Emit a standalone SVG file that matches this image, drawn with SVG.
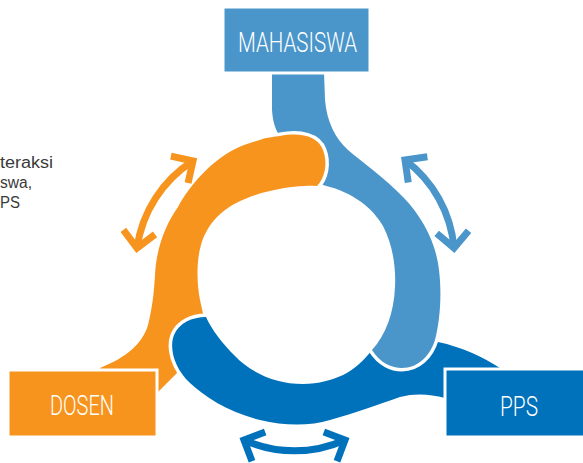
<svg xmlns="http://www.w3.org/2000/svg" width="583" height="463" viewBox="0 0 583 463">
<defs>
<style>
.or{fill:#F7941E}
.lb{fill:#4A96CA}
.db{fill:#0071BB}
.cut{fill:none;stroke:#fff;stroke-width:7;stroke-linejoin:round}
.box{stroke:#fff;stroke-width:3}
.lbl{font-family:Roboto,"Liberation Sans",sans-serif;font-weight:300;font-size:28px;fill:#fff}
.arr{fill:none;stroke-width:7}
.note{font-family:"Liberation Sans",Arial,sans-serif;font-size:16px;fill:#3a3a3a}
</style>
<marker id="hOr" markerUnits="userSpaceOnUse" viewBox="-20 -20 40 40" markerWidth="40" markerHeight="40" refX="0" refY="0" orient="auto-start-reverse" overflow="visible"><path d="M-16,-16 L0,0 L-16,16" fill="none" stroke="#F7941E" stroke-width="7" stroke-linejoin="miter"/></marker>
<marker id="hLb" markerUnits="userSpaceOnUse" viewBox="-20 -20 40 40" markerWidth="40" markerHeight="40" refX="0" refY="0" orient="auto-start-reverse" overflow="visible"><path d="M-16,-16 L0,0 L-16,16" fill="none" stroke="#4A96CA" stroke-width="7" stroke-linejoin="miter"/></marker>
<marker id="hDb" markerUnits="userSpaceOnUse" viewBox="-20 -20 40 40" markerWidth="40" markerHeight="40" refX="0" refY="0" orient="auto-start-reverse" overflow="visible"><path d="M-16,-16 L0,0 L-16,16" fill="none" stroke="#0071BB" stroke-width="7" stroke-linejoin="miter"/></marker>
</defs>
<g id="note">
<text class="note" x="0" y="167.5" textLength="53" lengthAdjust="spacingAndGlyphs">teraksi</text>
<text class="note" x="0" y="187.5" textLength="32" lengthAdjust="spacingAndGlyphs">swa,</text>
<text class="note" x="0" y="207.5" textLength="20" lengthAdjust="spacingAndGlyphs">PS</text>
</g>
<g id="ring">
<path id="seg-dosen" class="or" d="M280,136 C300,132 318,136 323,150 C328,163 325,178 317,186 C300,185 268,189 245,199 C222,208 207,224 201,245 C196,262 197,285 200,300 L204,318 C202,340 194,356 182,368 L150,400 L100,400 L100,368 C125,358 142,345 148,325 C153,305 154,290 155,275 C156,250 165,225 178,207 C190,185 210,162 235,149 C250,142 265,138 280,136 Z"/>
<path class="cut" d="M218,333 C212,326 208,321 206,317 C192,317 179,323 174,335 C169,348 174,368 190,383"/>
<path id="seg-pps" class="db" d="M206,317 C192,317 179,323 174,335 C169,348 174,368 190,383 C205,397 228,412 260,420 C285,426 310,426 330,420 C355,413 380,404 400,397 C415,393 430,394 445,398 L470,400 L520,400 L520,375 L500,368 C483,357 462,347 438,342 L405,343 L372,350 C355,372 335,383 303,384 C275,384 250,372 235,356 C222,343 212,330 206,317 Z"/>
<path class="cut" d="M385,328 C381,339 377,345 372,350 C380,363 392,368 402,368 C418,368 430,356 435,340 C436,336 437,332 437,328"/>
<path id="seg-mahasiswa" class="lb" d="M272,72 L272,110 C273,124 276,132 283,140 C295,158 308,176 318,184 C340,188 368,200 383,226 C393,245 396,268 395,287 C394,312 386,335 372,350 C380,363 392,368 402,368 C418,368 430,356 435,340 C440,320 442,295 439,270 C436,242 422,217 404,198 C385,178 362,162 348,150 C335,138 327,122 325,100 L324,72 Z"/>
<path class="cut" d="M268,137.5 L280,136 C300,132 318,136 323,150 C328,163 325,178 317,186 L306,186"/>
<path class="or" d="M262,139 C268,137.5 274,136.6 280,136 C300,132 318,136 323,150 C328,163 325,178 317,186 C300,185 280,187 262,191 Z"/>
</g>
<g id="connectors">
<path class="arr" stroke="#F7941E" marker-start="url(#hOr)" marker-end="url(#hOr)" d="M137,248 A123,123 0 0 1 193,161"/>
<path class="arr" stroke="#4A96CA" marker-start="url(#hLb)" marker-end="url(#hLb)" d="M405,160 A123,123 0 0 1 454,248"/>
<path class="arr" stroke="#0071BB" marker-start="url(#hDb)" marker-end="url(#hDb)" d="M345,440 A123,123 0 0 1 244,440"/>
</g>
<g id="node-mahasiswa">
<rect class="box lb" x="223" y="7" width="147" height="66"/>
<text class="lbl" x="238" y="52" textLength="119" lengthAdjust="spacingAndGlyphs">MAHASISWA</text>
</g>
<g id="node-dosen">
<rect class="box or" x="8" y="370" width="149" height="67"/>
<text class="lbl" x="50" y="415" textLength="64" lengthAdjust="spacingAndGlyphs">DOSEN</text>
</g>
<g id="node-pps">
<rect class="box db" x="445" y="369" width="145" height="68"/>
<text class="lbl" x="500" y="416" textLength="38" lengthAdjust="spacingAndGlyphs">PPS</text>
</g>
</svg>
